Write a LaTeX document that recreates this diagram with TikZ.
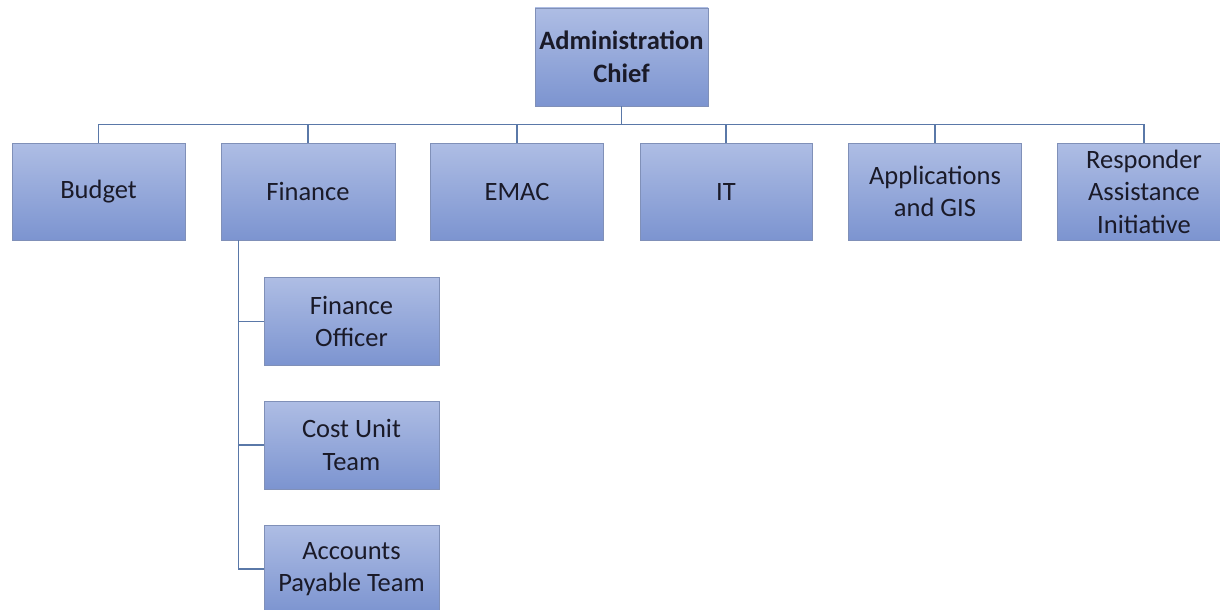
\documentclass[tikz,border=0pt]{standalone}
\usepackage{fontspec}
\setmainfont{Carlito}
\definecolor{boxtop}{HTML}{AEBDE4}
\definecolor{boxbot}{HTML}{7C94D0}
\definecolor{boxedge}{HTML}{8090B8}
\definecolor{linkc}{HTML}{5A78A8}
\definecolor{txt}{HTML}{1A1A28}
\begin{document}
\begin{tikzpicture}[x=1pt,y=-1pt,
  orgbox/.style={draw=boxedge, line width=0.8pt, top color=boxtop, bottom color=boxbot,
    minimum width=174pt, minimum height=97pt, inner sep=2pt, align=center,
    text=txt, font=\fontsize{26.5}{32.5}\selectfont},
  subbox/.style={orgbox, minimum width=175pt, minimum height=88pt},
  link/.style={draw=linkc, line width=1.4pt}]
\useasboundingbox (0,0) rectangle (1220,610);
\node[orgbox, minimum width=173pt, minimum height=98pt, font=\fontsize{26.5}{32.5}\selectfont\bfseries] (chief) at (621.5,57) {Administration\\Chief};
\node[orgbox, minimum width=173pt] (budget) at (98.5,191.5) {Budget};
\node[orgbox] (finance) at (308,191.5) {Finance};
\node[orgbox, minimum width=173pt] (emac) at (517,191.5) {EMAC};
\node[orgbox, minimum width=172pt] (it) at (726,191.5) {IT};
\node[orgbox, minimum width=173pt] (apps) at (935,191.5) {Applications\\and GIS};
\node[orgbox] (resp) at (1144,191.5) {Responder\\Assistance\\Initiative};
\node[subbox] (fo) at (351.5,321.5) {Finance\\Officer};
\node[subbox] (cu) at (351.5,445) {Cost Unit\\Team};
\node[subbox] (ap) at (351.5,569) {Accounts\\Payable Team};
\coordinate (bus) at ([yshift=-18pt]chief.south);
\foreach \n in {budget,finance,emac,it,apps,resp}
  \draw[link] (chief.south) -- (bus) -| (\n.north);
\coordinate (fl) at ([xshift=18pt]finance.south west);
\foreach \n in {fo,cu,ap}
  \draw[link] (fl) |- (\n.west);
\end{tikzpicture}
\end{document}
